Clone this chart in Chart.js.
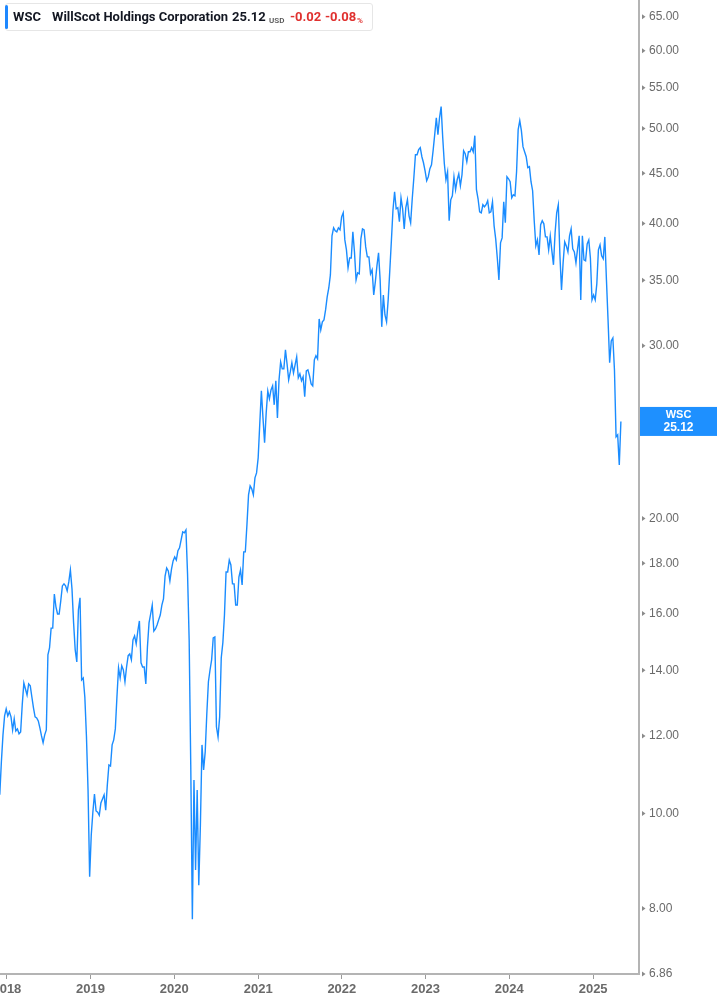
<!DOCTYPE html>
<html><head><meta charset="utf-8">
<script src="https://cdn.jsdelivr.net/npm/chart.js@4.4.1/dist/chart.umd.min.js"></script>
<style>
html,body{margin:0;padding:0;background:#fff;}
#wrap{position:relative;width:717px;height:1005px;overflow:hidden;}
#c{position:absolute;left:0;top:0;}
#hdr{position:absolute;left:5px;top:3px;width:366px;height:26px;background:#fff;border:1px solid #e6e6e6;border-radius:3px;font-family:Roboto,Inter,"Noto Sans",sans-serif;}
#hdr span{position:absolute;top:5px;font-size:13px;font-weight:700;color:#131722;white-space:nowrap;line-height:16px;}
#hdr .bar{left:-1px;top:1px;width:3px;height:24px;background:#1e88ff;border-radius:2px;}
#hdr .small{font-size:8px;top:9px;color:#555;font-weight:600;}
#hdr .red{color:#e0312f;}
#hdr .small.red{color:#e0312f;}
</style></head><body>
<div id="wrap">
<canvas id="c" width="717" height="1005"></canvas>
<div id="hdr">
<span class="bar"></span>
<span style="left:7px">WSC</span>
<span style="left:46px">WillScot Holdings Corporation</span>
<span style="left:226px">25.12</span>
<span class="small" style="left:263px">USD</span>
<span class="red" style="left:284px">-0.02</span>
<span class="red" style="left:319px">-0.08</span>
<span class="small red" style="left:351px">%</span>
</div>
</div>
<script>
const symbol = 'WSC';
const d2017 = ['2017-12-01','2017-12-08','2017-12-15','2017-12-22','2017-12-29'];
const c2017 = [10.45,11.29,12.03,12.58,12.79];
const d2018 = ['2018-01-05','2018-01-12','2018-01-19','2018-01-26','2018-02-02','2018-02-09','2018-02-16','2018-02-23','2018-03-02','2018-03-09','2018-03-16','2018-03-23','2018-03-30',
'2018-04-06','2018-04-13','2018-04-20','2018-04-27','2018-05-04','2018-05-11','2018-05-18','2018-05-25','2018-06-01','2018-06-08','2018-06-15','2018-06-22','2018-06-29',
'2018-07-06','2018-07-13','2018-07-20','2018-07-27','2018-08-03','2018-08-10','2018-08-17','2018-08-24','2018-08-31','2018-09-07','2018-09-14','2018-09-21','2018-09-28',
'2018-10-05','2018-10-12','2018-10-19','2018-10-26','2018-11-02','2018-11-09','2018-11-16','2018-11-23','2018-11-30','2018-12-07','2018-12-14','2018-12-21','2018-12-28'];
const c2018 = [12.58,12.70,12.55,12.17,12.49,12.14,12.20,12.06,12.11,12.91,13.59,13.40,13.21,13.56,13.50,13.15,12.82,12.55,12.52,12.43,12.23,12.00,11.81,12.03,12.17,
14.52,14.76,15.46,15.46,16.75,16.25,15.98,15.98,16.48,17.07,17.15,17.07,16.87,17.23,17.72,16.95,15.65,14.69,14.28,16.13,16.60,13.69,13.75,13.15,12.00,10.57,8.62];
const d2019 = ['2019-01-04','2019-01-11','2019-01-18','2019-01-25','2019-02-01','2019-02-08','2019-02-15','2019-02-22','2019-03-01','2019-03-08','2019-03-15','2019-03-22','2019-03-29',
'2019-04-05','2019-04-12','2019-04-19','2019-04-26','2019-05-03','2019-05-10','2019-05-17','2019-05-24','2019-05-31','2019-06-07','2019-06-14','2019-06-21','2019-06-28',
'2019-07-05','2019-07-12','2019-07-19','2019-07-26','2019-08-02','2019-08-09','2019-08-16','2019-08-23','2019-08-30','2019-09-06','2019-09-13','2019-09-20','2019-09-27',
'2019-10-04','2019-10-11','2019-10-18','2019-10-25','2019-11-01','2019-11-08','2019-11-15','2019-11-22','2019-11-29','2019-12-06','2019-12-13','2019-12-20','2019-12-27'];
const c2019 = [9.51,10.03,10.47,10.06,10.03,9.96,10.25,10.35,10.45,10.08,10.69,11.21,11.18,11.75,11.89,12.20,13.15,14.08,13.75,14.15,14.01,13.63,14.11,14.49,14.55,14.35,
15.04,15.18,14.90,15.35,15.72,14.25,14.11,14.11,13.56,14.79,15.65,15.98,16.32,15.35,15.43,15.57,15.76,15.94,16.32,16.56,17.47,17.80,17.68,17.27,17.76,18.10];
const d2020 = ['2020-01-03','2020-01-10','2020-01-17','2020-01-24','2020-01-31','2020-02-07','2020-02-14','2020-02-21','2020-02-28','2020-03-06','2020-03-13','2020-03-20','2020-03-27',
'2020-04-03','2020-04-10','2020-04-17','2020-04-24','2020-05-01','2020-05-08','2020-05-15','2020-05-22','2020-05-29','2020-06-05','2020-06-12','2020-06-19','2020-06-26',
'2020-07-03','2020-07-10','2020-07-17','2020-07-24','2020-07-31','2020-08-07','2020-08-14','2020-08-21','2020-08-28','2020-09-04','2020-09-11','2020-09-18','2020-09-25',
'2020-10-02','2020-10-09','2020-10-16','2020-10-23','2020-10-30','2020-11-06','2020-11-13','2020-11-20','2020-11-27','2020-12-04','2020-12-11','2020-12-18','2020-12-25'];
const c2020 = [18.27,18.14,18.54,18.67,19.02,19.38,19.34,19.47,17.56,15.04,11.21,7.80,10.82,8.76,10.57,8.45,9.73,11.75,11.08,11.56,12.64,13.63,14.01,14.35,15.11,15.14,
12.26,11.97,12.55,14.42,14.94,15.94,17.64,17.64,18.14,17.93,17.15,17.15,16.32,16.32,17.43,17.72,17.11,18.49,18.49,19.70,21.14,21.59,21.44,21.14,22.00,22.26];
const d2021 = ['2021-01-01','2021-01-08','2021-01-15','2021-01-22','2021-01-29','2021-02-05','2021-02-12','2021-02-19','2021-02-26','2021-03-05','2021-03-12','2021-03-19','2021-03-26',
'2021-04-02','2021-04-09','2021-04-16','2021-04-23','2021-04-30','2021-05-07','2021-05-14','2021-05-21','2021-05-28','2021-06-04','2021-06-11','2021-06-18','2021-06-25',
'2021-07-02','2021-07-09','2021-07-16','2021-07-23','2021-07-30','2021-08-06','2021-08-13','2021-08-20','2021-08-27','2021-09-03','2021-09-10','2021-09-17','2021-09-24',
'2021-10-01','2021-10-08','2021-10-15','2021-10-22','2021-10-29','2021-11-05','2021-11-12','2021-11-19','2021-11-26','2021-12-03','2021-12-10','2021-12-17','2021-12-24','2021-12-31'];
const c2021 = [23.06,24.98,26.99,25.33,23.89,25.63,26.99,26.49,27.05,27.31,26.12,27.64,25.33,27.70,28.89,28.42,28.42,29.72,28.76,27.70,28.22,28.83,28.15,28.69,29.24,27.83,
28.09,27.64,27.90,26.62,28.28,28.35,27.96,27.44,27.31,29.03,29.31,29.10,31.96,31.15,31.74,31.89,32.64,33.66,34.37,35.44,38.85,39.59,39.31,39.21,39.59,39.40,40.62];
const d2022 = ['2022-01-07','2022-01-14','2022-01-21','2022-01-28','2022-02-04','2022-02-11','2022-02-18','2022-02-25','2022-03-04','2022-03-11','2022-03-18','2022-03-25',
'2022-04-01','2022-04-08','2022-04-15','2022-04-22','2022-04-29','2022-05-06','2022-05-13','2022-05-20','2022-05-27','2022-06-03','2022-06-10','2022-06-17','2022-06-24',
'2022-07-01','2022-07-08','2022-07-15','2022-07-22','2022-07-29','2022-08-05','2022-08-12','2022-08-19','2022-08-26','2022-09-02','2022-09-09','2022-09-16','2022-09-23','2022-09-30',
'2022-10-07','2022-10-14','2022-10-21','2022-10-28','2022-11-04','2022-11-11','2022-11-18','2022-11-25','2022-12-02','2022-12-09','2022-12-16','2022-12-23','2022-12-30'];
const c2022 = [41.01,38.48,37.59,36.03,36.88,36.88,39.21,37.41,35.03,35.61,35.53,38.57,39.49,39.40,37.85,36.97,36.97,35.53,35.86,33.81,34.87,36.20,37.32,35.03,31.37,33.81,
32.26,31.74,33.42,35.78,38.39,41.30,43.09,41.40,41.50,40.15,42.48,41.40,39.49,41.50,42.28,40.72,40.06,42.38,44.53,47.00,47.00,47.56,47.79,46.78,46.12,45.26];
const d2023 = ['2023-01-06','2023-01-13','2023-01-20','2023-01-27','2023-02-03','2023-02-10','2023-02-17','2023-02-24','2023-03-03','2023-03-10','2023-03-17','2023-03-24','2023-03-31',
'2023-04-07','2023-04-14','2023-04-21','2023-04-28','2023-05-05','2023-05-12','2023-05-19','2023-05-26','2023-06-02','2023-06-09','2023-06-16','2023-06-23','2023-06-30',
'2023-07-07','2023-07-14','2023-07-21','2023-07-28','2023-08-04','2023-08-11','2023-08-18','2023-08-25','2023-09-01','2023-09-08','2023-09-15','2023-09-22','2023-09-29',
'2023-10-06','2023-10-13','2023-10-20','2023-10-27','2023-11-03','2023-11-10','2023-11-17','2023-11-24','2023-12-01','2023-12-08','2023-12-15','2023-12-22','2023-12-29'];
const c2023 = [44.22,44.63,45.48,45.91,47.45,49.27,51.27,49.27,51.27,52.62,48.92,46.01,44.32,45.15,40.25,42.28,42.68,44.63,43.29,44.32,44.94,43.70,44.84,47.45,47.11,46.23,
47.33,47.33,47.79,47.33,49.15,43.29,42.38,41.11,41.01,41.79,41.59,41.79,42.18,41.01,41.11,42.08,39.77,38.57,36.88,35.03,38.21,38.66,42.08,40.06,44.63,44.42];
const d2024 = ['2024-01-05','2024-01-12','2024-01-19','2024-01-26','2024-02-02','2024-02-09','2024-02-16','2024-02-23','2024-03-01','2024-03-08','2024-03-15','2024-03-22','2024-03-29',
'2024-04-05','2024-04-12','2024-04-19','2024-04-26','2024-05-03','2024-05-10','2024-05-17','2024-05-24','2024-05-31','2024-06-07','2024-06-14','2024-06-21','2024-06-28',
'2024-07-05','2024-07-12','2024-07-19','2024-07-26','2024-08-02','2024-08-09','2024-08-16','2024-08-23','2024-08-30','2024-09-06','2024-09-13','2024-09-20','2024-09-27',
'2024-10-04','2024-10-11','2024-10-18','2024-10-25','2024-11-01','2024-11-08','2024-11-15','2024-11-22','2024-11-29','2024-12-06','2024-12-13','2024-12-20','2024-12-27'];
const c2024 = [44.11,42.48,42.78,42.68,45.15,49.85,50.91,49.73,47.90,47.33,46.78,45.59,45.69,44.11,43.19,40.25,37.94,38.48,37.15,39.87,40.25,39.96,38.75,38.75,37.59,38.85,
37.50,36.29,39.12,41.01,41.79,37.15,34.21,36.46,38.30,37.94,37.41,38.85,39.49,37.68,37.41,36.46,37.68,38.85,33.42,38.85,36.71,36.63,38.12,38.48,36.88,33.42];
const d2025 = ['2025-01-03','2025-01-10','2025-01-17','2025-01-24','2025-01-31','2025-02-07','2025-02-14','2025-02-21','2025-02-28','2025-03-07','2025-03-14','2025-03-21','2025-03-28',
'2025-04-04','2025-04-11','2025-04-18','2025-04-25','2025-05-02'];
const c2025 = [33.81,33.42,34.70,37.59,38.03,37.06,36.80,38.75,35.03,31.89,28.83,30.35,30.56,28.35,24.23,24.34,22.68,25.12];

const yearTicks = [2018,2019,2020,2021,2022,2023,2024,2025];
const priceTicks = [6.86,8,10,12,14,16,18,20,25,30,35,40,45,50,55,60,65];
const axisStart = '2017-12-02', axisEnd = '2025-07-20';
const priceMin = 6.86, priceMax = 67.6;

const dates = [].concat(d2017,d2018,d2019,d2020,d2021,d2022,d2023,d2024,d2025);
const closes = [].concat(c2017,c2018,c2019,c2020,c2021,c2022,c2023,c2024,c2025);
const points = dates.map((d,i)=>({x:Date.parse(d), y:closes[i]}));

const LINE = '#1a8cff';
const axisFont = '"Liberation Sans", Arial, sans-serif';

const decor = {
  id:'decor',
  afterDraw(chart){
    const {ctx, chartArea:a, scales:{y}} = chart;
    ctx.save();
    ctx.fillStyle = '#8a8a8a';
    y.ticks.forEach(t=>{
      const py = y.getPixelForValue(t.value);
      ctx.beginPath();
      ctx.moveTo(a.right+3, py-2.5);
      ctx.lineTo(a.right+6.5, py);
      ctx.lineTo(a.right+3, py+2.5);
      ctx.closePath(); ctx.fill();
    });
    const last = closes[closes.length-1];
    const py = y.getPixelForValue(last);
    const x0 = a.right+1, w = chart.width - x0;
    ctx.fillStyle = '#1e90ff';
    ctx.fillRect(x0, py-14.5, w, 29);
    ctx.fillStyle = '#fff';
    ctx.textAlign = 'center';
    ctx.textBaseline = 'middle';
    ctx.font = 'bold 11px ' + axisFont;
    ctx.fillText(symbol, x0 + w/2, py-6);
    ctx.font = 'bold 12px ' + axisFont;
    ctx.fillText(last.toFixed(2), x0 + w/2, py+6);
    ctx.restore();
  }
};

new Chart(document.getElementById('c'), {
  type:'line',
  data:{datasets:[{data:points, borderColor:LINE, borderWidth:1.4, pointRadius:0, tension:0, fill:false}]},
  options:{
    responsive:false, animation:false, devicePixelRatio:1,
    layout:{padding:0},
    plugins:{legend:{display:false}, tooltip:{enabled:false}},
    scales:{
      x:{
        type:'linear', min:Date.parse(axisStart), max:Date.parse(axisEnd),
        afterBuildTicks:s=>{ s.ticks = yearTicks.map(yr=>({value:Date.UTC(yr,0,1)})); },
        afterFit:s=>{ s.height = 31; s.paddingLeft = 0; s.paddingRight = 0; },
        grid:{drawOnChartArea:false, drawTicks:true, tickLength:5, color:'#9a9a9a', tickWidth:1},
        border:{display:true, color:'#b4b4b4', width:2},
        ticks:{autoSkip:false, maxRotation:0, padding:3, color:'#6a6a6a',
          font:{family:axisFont, size:13, weight:'bold'},
          callback:v=>String(new Date(v).getUTCFullYear())}
      },
      y:{
        type:'logarithmic', position:'right', min:priceMin, max:priceMax,
        afterBuildTicks:s=>{ s.ticks = priceTicks.map(v=>({value:v})); },
        afterFit:s=>{ s.width = 78; s.paddingTop = 0; s.paddingBottom = 0; },
        grid:{drawOnChartArea:false, drawTicks:true, tickLength:5, color:'rgba(0,0,0,0)'},
        border:{display:true, color:'#b4b4b4', width:2},
        ticks:{autoSkip:false, padding:5, color:'#6a6a6a',
          font:{family:axisFont, size:12},
          callback:v=>Number(v).toFixed(2)}
      }
    }
  },
  plugins:[decor]
});
</script>
</body></html>
